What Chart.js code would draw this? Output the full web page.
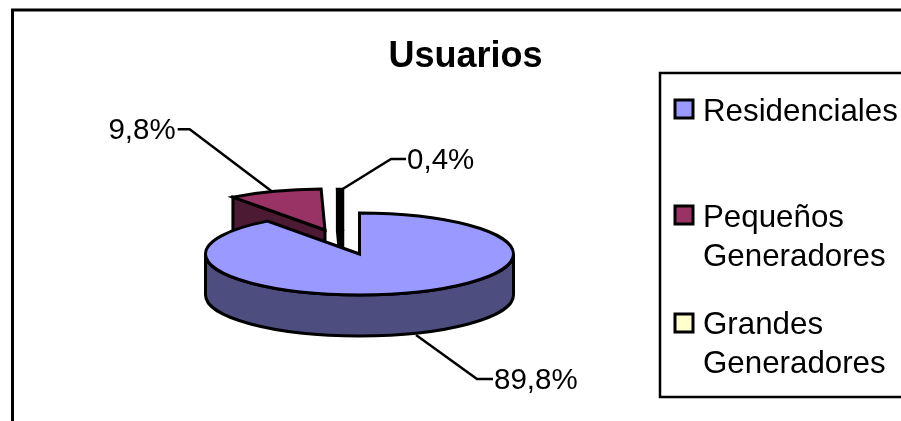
<!DOCTYPE html>
<html>
<head>
<meta charset="utf-8">
<title>Usuarios</title>
<script src="https://cdn.jsdelivr.net/npm/chart.js@4"></script>
<style>
  html, body { margin: 0; padding: 0; background: #fff; }
  canvas { display: block; }
</style>
</head>
<body>
<canvas id="usuarios" width="901" height="421"></canvas>
<script>
// ── Data ─────────────────────────────────────────────────────────────
const TITLE      = 'Usuarios';
const categories = ['Residenciales', 'Pequeños Generadores', 'Grandes Generadores'];
const shares     = [89.8, 9.8, 0.4];
const topColors  = ['#9999ff', '#993366', '#ffffcc'];
const sideColors = ['#4d4d80', '#4d1a33', '#808066'];

// ── Look of the fake 3D pie ──────────────────────────────────────────
const FONT    = '"Liberation Sans", Arial, sans-serif';
const SQUASH  = 41 / 154;          // ellipse height / width
const DEPTH   = 41;                // wall height
const LINE    = 3;
const EXPLODE = [[0, 0], [-34.5, -24], [-17.5, -23]];  // slice shifts in px
// everything below is relative to the rim point the leader starts from
const LEADERS = [
  { start: [8, 1],  elbow: [69, 45],   end: [85, 45],   text: [86, 47],   align: 'left'  },
  { start: [-3, 0], elbow: [-85, -62], end: [-97, -62], text: [-99, -60], align: 'right' },
  { start: [1, 0],  elbow: [51, -31],  end: [66, -31],  text: [67, -29],  align: 'left'  },
];
const pct = v => v.toFixed(1).replace('.', ',') + '%';

function wedgePath(ctx, cx, cy, arc) {
  const rx = arc.outerRadius, ry = rx * SQUASH;
  ctx.beginPath();
  ctx.moveTo(cx, cy);
  ctx.ellipse(cx, cy, rx, ry, 0, arc.startAngle, arc.endAngle);
  ctx.closePath();
}

function drawWalls(ctx, cx, cy, arc, i) {
  const rx = arc.outerRadius, ry = rx * SQUASH;
  ctx.fillStyle = sideColors[i];
  // cut face on the start edge, only when it looks towards the viewer
  const sx = cx + rx * Math.cos(arc.startAngle), sy = cy + ry * Math.sin(arc.startAngle);
  if (i > 0) {
    ctx.beginPath();
    ctx.moveTo(sx, sy);
    ctx.lineTo(cx, cy);
    ctx.lineTo(cx, cy + DEPTH);
    ctx.lineTo(sx, sy + DEPTH);
    ctx.closePath();
    ctx.fill();
    ctx.stroke();
  }
  // front part of the rim
  const a0 = Math.max(arc.startAngle, 0), a1 = Math.min(arc.endAngle, Math.PI);
  if (a1 > a0) {
    ctx.beginPath();
    ctx.ellipse(cx, cy, rx, ry, 0, a0, a1);
    ctx.ellipse(cx, cy + DEPTH, rx, ry, 0, a1, a0, true);
    ctx.closePath();
    ctx.fill();
    ctx.stroke();
  }
}

// ── Replaces the flat arcs with extruded, squashed ones ──────────────
const pie3d = {
  id: 'pie3d',
  beforeDatasetDraw(chart) {
    const { ctx } = chart;
    const arcs = chart.getDatasetMeta(0).data;
    ctx.save();
    ctx.strokeStyle = '#000';
    ctx.lineJoin = 'miter';
    // back to front: smallest slice first, the big one covers the others
    [2, 1, 0].forEach(i => {
      const arc = arcs[i];
      const cx = arc.x + EXPLODE[i][0], cy = arc.y + EXPLODE[i][1];
      // a very thin slice closes up to a solid black line
      ctx.lineWidth = arc.endAngle - arc.startAngle < 0.1 ? LINE + 1.5 : LINE;
      drawWalls(ctx, cx, cy, arc, i);
      wedgePath(ctx, cx, cy, arc);
      ctx.fillStyle = topColors[i];
      ctx.fill();
      ctx.stroke();
    });
    ctx.restore();
    return false;
  },
  afterDraw(chart) {
    const { ctx } = chart;
    const arcs = chart.getDatasetMeta(0).data;
    ctx.save();

    // outer frame, runs off the right and bottom of the picture
    ctx.strokeStyle = '#000';
    ctx.lineWidth = 3;
    ctx.beginPath();
    ctx.moveTo(12.5, 421);
    ctx.lineTo(12.5, 10);
    ctx.lineTo(901, 10);
    ctx.stroke();

    // title
    ctx.fillStyle = '#000';
    ctx.font = 'bold 36px ' + FONT;
    ctx.textAlign = 'center';
    ctx.textBaseline = 'alphabetic';
    ctx.fillText(TITLE, 465.5, 67);

    // data labels with leaders
    ctx.font = '29.5px ' + FONT;
    ctx.lineWidth = 2.5;
    arcs.forEach((arc, i) => {
      const mid = (arc.startAngle + arc.endAngle) / 2;
      const front = Math.sin(mid) > 0;
      const px = arc.x + EXPLODE[i][0] + arc.outerRadius * Math.cos(mid);
      const py = arc.y + EXPLODE[i][1] + arc.outerRadius * SQUASH * Math.sin(mid) + (front ? DEPTH : 0);
      const l = LEADERS[i];
      ctx.beginPath();
      ctx.moveTo(px + l.start[0], py + l.start[1]);
      ctx.lineTo(px + l.elbow[0], py + l.elbow[1]);
      ctx.lineTo(px + l.end[0], py + l.end[1]);
      ctx.stroke();
      ctx.textAlign = l.align;
      ctx.textBaseline = 'middle';
      ctx.fillText(pct(shares[i]), px + l.text[0], py + l.text[1]);
    });

    // legend
    ctx.lineWidth = 2.5;
    ctx.beginPath();
    ctx.moveTo(901, 73);
    ctx.lineTo(660, 73);
    ctx.lineTo(660, 397);
    ctx.lineTo(901, 397);
    ctx.stroke();

    ctx.font = '31.3px ' + FONT;
    ctx.textAlign = 'left';
    ctx.textBaseline = 'alphabetic';
    const boxY  = [100, 206, 314];
    const lineY = [[121], [227, 266], [334, 373]];
    categories.forEach((name, i) => {
      ctx.lineWidth = 3;
      ctx.fillStyle = topColors[i];
      ctx.fillRect(675, boxY[i], 18, 18);
      ctx.strokeRect(675, boxY[i], 18, 18);
      ctx.fillStyle = '#000';
      name.split(' ').forEach((word, k) => ctx.fillText(word, 703, lineY[i][k]));
    });
    ctx.restore();
  },
};

new Chart(document.getElementById('usuarios'), {
  type: 'pie',
  data: {
    labels: categories,
    datasets: [{ data: shares, backgroundColor: topColors, borderColor: '#000', borderWidth: 0 }],
  },
  options: {
    responsive: false,
    animation: false,
    // pie circle radius 154 centred on (359.5, 254)
    layout: { padding: { left: 205.5, right: 387.5, top: 100, bottom: 13 } },
    plugins: { legend: { display: false }, tooltip: { enabled: false } },
  },
  plugins: [pie3d],
});
</script>
</body>
</html>
